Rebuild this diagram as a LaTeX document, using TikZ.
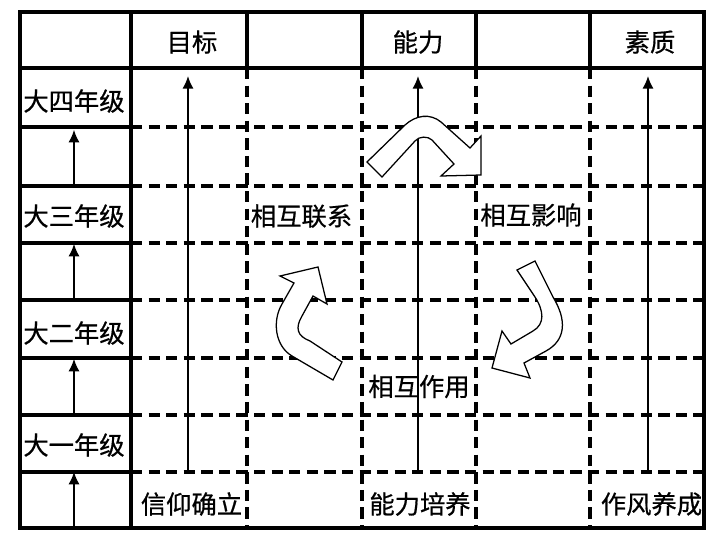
\documentclass[tikz,border=0pt]{standalone}
\usepackage{fontspec}
\newfontfamily\cjk[FakeBold=0.6]{Noto Sans CJK SC}
\usetikzlibrary{arrows.meta,positioning}
\tikzset{
  gridsolid/.style={draw=black,line width=2.2pt},
  griddash/.style={draw=black,line width=2.2pt,dash pattern=on 8pt off 4.5pt},
  celltext/.style={font=\cjk\fontsize{18}{20}\selectfont,inner sep=0pt,text=black},
  gapcell/.style={minimum height=1.4cm,minimum width=0pt,inner sep=0pt},
  gradeflow/.style={-{Latex[length=9pt,width=8pt]},draw=black,line width=1.5pt},
  longflow/.style={-{Latex[length=9pt,width=8pt]},draw=black,line width=1.2pt},
  bendarrow/.style={draw=black,fill=white,line width=0.9pt,line join=miter}
}
\begin{document}
\begin{tikzpicture}[x=0.025cm,y=-0.025cm]
  \useasboundingbox (0,0) rectangle (719,541);

  \draw[griddash] (131,127) -- (704,127) (131,186) -- (704,186)
    (131,243) -- (704,243) (131,300) -- (704,300) (131,358) -- (704,358)
    (131,415) -- (704,415) (131,472) -- (704,472);
  \draw[griddash] (247,68) -- (247,528) (362,68) -- (362,528)
    (476,68) -- (476,528) (590,68) -- (590,528);
  \draw[gridsolid] (20,127) -- (131,127) (20,186) -- (131,186)
    (20,243) -- (131,243) (20,300) -- (131,300) (20,358) -- (131,358)
    (20,415) -- (131,415) (20,472) -- (131,472);
  \draw[gridsolid] (247,12) -- (247,68) (362,12) -- (362,68)
    (476,12) -- (476,68) (590,12) -- (590,68);
  \draw[gridsolid] (20,68) -- (704,68) (131,12) -- (131,528);
  \draw[gridsolid] (20,12) rectangle (704,528);

  \node[celltext] (goal) at (192,42) {目标};
  \node[celltext] (ability) at (418,42) {能力};
  \node[celltext] (quality) at (650,42) {素质};

  \node[celltext] (grade4) at (74,101) {大四年级};
  \node[celltext] (grade3) at (74,216) {大三年级};
  \node[celltext] (grade2) at (74,333) {大二年级};
  \node[celltext] (grade1) at (74,445) {大一年级};

  \node[gapcell] (gap4) at (74,158) {};
  \node[gapcell] (gap3) at (74,272) {};
  \node[gapcell] (gap2) at (74,387) {};
  \node[gapcell] (gap1) at (74,500) {};
  \draw[gradeflow] (gap4.south) -- (gap4.north);
  \draw[gradeflow] (gap3.south) -- (gap3.north);
  \draw[gradeflow] (gap2.south) -- (gap2.north);
  \draw[gradeflow] (gap1.south) -- (gap1.north);

  \coordinate (goalbase) at (188,472);
  \coordinate (goaltip) at (188,76);
  \coordinate (abilitybase) at (418,472);
  \coordinate (abilitytip) at (418,76);
  \coordinate (qualitybase) at (648,472);
  \coordinate (qualitytip) at (648,76);
  \draw[longflow] (goalbase) -- (goaltip);
  \draw[longflow] (abilitybase) -- (abilitytip);
  \draw[longflow] (qualitybase) -- (qualitytip);

  \node[celltext] (belief) at (191.5,504) {信仰确立};
  \node[celltext] (training) at (420,504) {能力培养};
  \node[celltext] (conduct) at (651.5,504) {作风养成};

  \node[celltext] (linked) at (301.5,216) {相互联系};
  \node[celltext] (affect) at (531,215) {相互影响};
  \node[celltext] (interact) at (419,386.5) {相互作用};

  \draw[bendarrow] (367,162) -- (405,125) .. controls (416,115) and (430,113) .. (441,122)
    -- (470,148) -- (481,136) -- (481,175) -- (441,176) -- (454,164)
    -- (432,140) .. controls (428,136) and (419,136) .. (415,141) -- (382,177) -- cycle;
  \draw[bendarrow] (517,270) -- (535,261) -- (553,297) .. controls (567,320) and (566,340) .. (546,351)
    -- (524,363) -- (530,378) -- (492,368) -- (502,331) -- (511,344)
    -- (533,331) .. controls (545,324) and (544,311) .. (535,297) -- cycle;
  \draw[bendarrow] (333,380) -- (292,356) .. controls (275,346) and (272,321) .. (282,304)
    -- (294,283) -- (280,276) -- (318,267) -- (327,304) -- (313,296)
    -- (302,316) .. controls (295,328) and (297,336) .. (310,341) -- (342,362) -- cycle;
\end{tikzpicture}
\end{document}
